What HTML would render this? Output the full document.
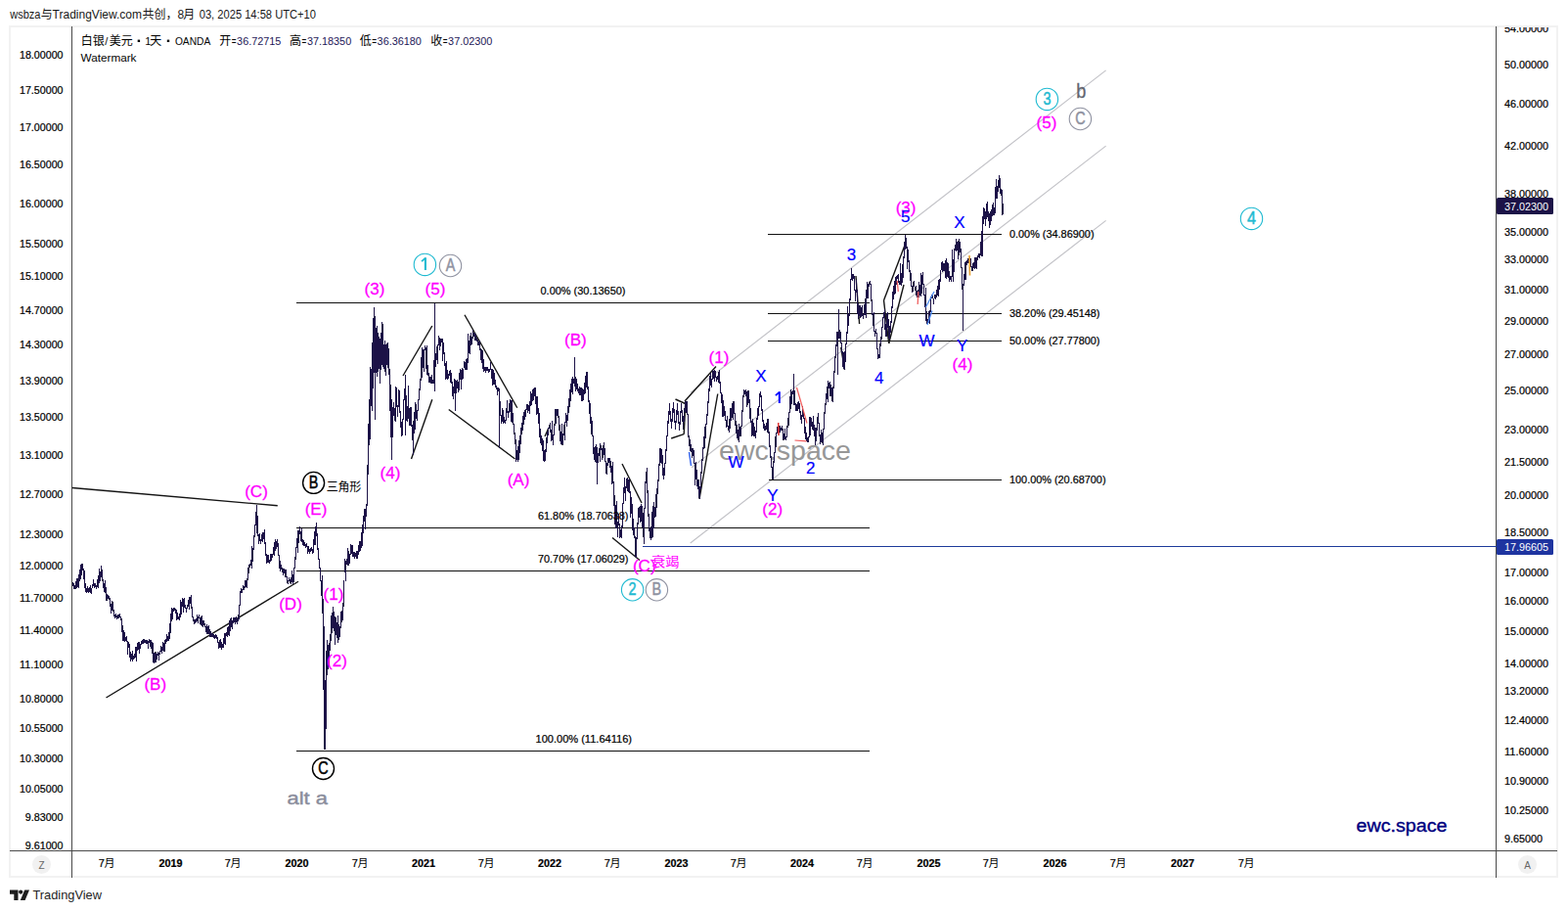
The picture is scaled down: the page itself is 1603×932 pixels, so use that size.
<!DOCTYPE html>
<html><head><meta charset="utf-8"><title>chart</title>
<style>html,body{margin:0;padding:0;background:#fff}body{width:1603px;height:932px;position:relative;overflow:hidden;font-family:"Liberation Sans",sans-serif}</style></head>
<body>
<svg width="1603" height="932" viewBox="0 0 1603 932" style="position:absolute;left:0;top:0;font-family:'Liberation Sans','Noto Sans CJK SC',sans-serif">
<rect x="10" y="27" width="1582" height="869" fill="#fff" stroke="#f2f2f2" stroke-width="2"/>
<line x1="73.5" y1="27" x2="73.5" y2="897" stroke="#4a4a4a" stroke-width="1" shape-rendering="crispEdges"/>
<line x1="1529.5" y1="27" x2="1529.5" y2="897" stroke="#4a4a4a" stroke-width="1" shape-rendering="crispEdges"/>
<line x1="10" y1="869.5" x2="1592" y2="869.5" stroke="#4a4a4a" stroke-width="1" shape-rendering="crispEdges"/>
<line x1="706" y1="401.3" x2="1130.6" y2="71.9" stroke="#c3c3c8" stroke-width="1.2"/>
<line x1="707" y1="477.7" x2="1130.6" y2="149.1" stroke="#c3c3c8" stroke-width="1.2"/>
<line x1="705.7" y1="555.0" x2="1130.6" y2="225.4" stroke="#c3c3c8" stroke-width="1.2"/>
<text x="735" y="469.5" font-size="28" fill="#979797" text-anchor="start" font-weight="normal" textLength="135" lengthAdjust="spacingAndGlyphs">ewc.space</text>
<line x1="302.5" y1="309.5" x2="888.5" y2="309.5" stroke="#111" stroke-width="1" shape-rendering="crispEdges"/>
<line x1="302.5" y1="539.5" x2="888.5" y2="539.5" stroke="#111" stroke-width="1" shape-rendering="crispEdges"/>
<line x1="302.5" y1="583.5" x2="888.5" y2="583.5" stroke="#111" stroke-width="1" shape-rendering="crispEdges"/>
<line x1="302.5" y1="767.5" x2="888.5" y2="767.5" stroke="#111" stroke-width="1" shape-rendering="crispEdges"/>
<line x1="785" y1="239.5" x2="1024" y2="239.5" stroke="#111" stroke-width="1" shape-rendering="crispEdges"/>
<line x1="785" y1="320.5" x2="1024" y2="320.5" stroke="#111" stroke-width="1" shape-rendering="crispEdges"/>
<line x1="785" y1="348.5" x2="1024" y2="348.5" stroke="#111" stroke-width="1" shape-rendering="crispEdges"/>
<line x1="786" y1="490.5" x2="1024" y2="490.5" stroke="#111" stroke-width="1" shape-rendering="crispEdges"/>
<line x1="657" y1="558.5" x2="1530" y2="558.5" stroke="#1e3a9a" stroke-width="1.4" shape-rendering="crispEdges"/>
<line x1="73.75" y1="498.5" x2="283.75" y2="516.75" stroke="#141414" stroke-width="1.4"/>
<line x1="108.5" y1="713" x2="305" y2="594.25" stroke="#141414" stroke-width="1.4"/>
<line x1="412" y1="384" x2="441.8" y2="333" stroke="#141414" stroke-width="1.4"/>
<line x1="420.5" y1="469" x2="441.8" y2="408.2" stroke="#141414" stroke-width="1.4"/>
<line x1="475" y1="321.75" x2="528.75" y2="416.75" stroke="#141414" stroke-width="1.4"/>
<line x1="458.75" y1="418.5" x2="526.5" y2="469" stroke="#141414" stroke-width="1.4"/>
<line x1="636" y1="474" x2="656" y2="514" stroke="#141414" stroke-width="1.4"/>
<line x1="626" y1="549.5" x2="654" y2="572.5" stroke="#141414" stroke-width="1.4"/>
<line x1="700" y1="410" x2="732" y2="374.5" stroke="#141414" stroke-width="1.4"/>
<line x1="715" y1="510" x2="733.75" y2="402.5" stroke="#141414" stroke-width="1.4"/>
<line x1="690.5" y1="408" x2="700.7" y2="412.5" stroke="#141414" stroke-width="1.4"/>
<line x1="700.7" y1="412.5" x2="699.2" y2="443.7" stroke="#141414" stroke-width="1.4"/>
<line x1="686.2" y1="448" x2="699.2" y2="443.7" stroke="#141414" stroke-width="1.4"/>
<line x1="875" y1="282" x2="878.6" y2="331" stroke="#141414" stroke-width="1.4"/>
<line x1="859.7" y1="355" x2="863.5" y2="378" stroke="#141414" stroke-width="1.4"/>
<line x1="903.5" y1="307" x2="925" y2="250.6" stroke="#141414" stroke-width="1.4"/>
<line x1="908.7" y1="351" x2="924" y2="291" stroke="#141414" stroke-width="1.4"/>
<line x1="903.5" y1="307" x2="908.7" y2="351" stroke="#141414" stroke-width="1.4"/>
<line x1="557" y1="446" x2="561" y2="437" stroke="#141414" stroke-width="1.4"/>
<path d="M74.5 595V599M75.5 596V602M76.5 598V602M77.5 594V602M78.5 591V601M79.5 591V600M80.5 587V601M81.5 582V594M82.5 577V592M83.5 576V588M84.5 576V583M85.5 581V592M86.5 583V601M87.5 596V605M88.5 601V606M89.5 599V605M90.5 601V606M91.5 600V605M92.5 598V606M93.5 601V607M94.5 597V601M95.5 592V599M96.5 596V601M97.5 596V600M98.5 598V602M99.5 592V600M100.5 588V601M101.5 581V596M102.5 584V594M103.5 578V590M104.5 582V594M105.5 592V601M106.5 596V605M107.5 593V606M108.5 600V614M109.5 607V614M110.5 608V612M111.5 609V613M112.5 611V620M113.5 617V627M114.5 614V624M115.5 615V625M116.5 623V630M117.5 628V632M118.5 627V631M119.5 629V633M120.5 628V632M121.5 628V632M122.5 627V631M123.5 630V634M124.5 632V646M125.5 639V655M126.5 644V655M127.5 646V656M128.5 651V655M129.5 650V656M130.5 655V669M131.5 656V662M132.5 658V672M133.5 666V676M134.5 668V674M135.5 665V676M136.5 670V674M137.5 668V673M138.5 661V672M139.5 661V676M140.5 657V665M141.5 656V664M142.5 656V668M143.5 658V663M144.5 655V659M145.5 654V658M146.5 653V658M147.5 653V657M148.5 654V657M149.5 654V658M150.5 654V658M151.5 655V663M152.5 653V657M153.5 654V661M154.5 654V663M155.5 656V668M156.5 657V677M157.5 667V678M158.5 666V677M159.5 666V677M160.5 668V674M161.5 666V670M162.5 667V675M163.5 665V669M164.5 660V666M165.5 661V668M166.5 656V665M167.5 657V666M168.5 654V666M169.5 653V658M170.5 648V656M171.5 650V655M172.5 646V655M173.5 637V653M174.5 627V647M175.5 621V635M176.5 622V633M177.5 621V625M178.5 621V624M179.5 622V627M180.5 623V634M181.5 626V633M182.5 630V633M183.5 627V634M184.5 613V631M185.5 615V628M186.5 611V620M187.5 612V626M188.5 611V621M189.5 618V622M190.5 621V626M191.5 618V622M192.5 613V620M193.5 610V623M194.5 610V617M195.5 608V622M196.5 620V631M197.5 630V635M198.5 633V638M199.5 633V637M200.5 632V636M201.5 628V635M202.5 630V637M203.5 628V632M204.5 631V638M205.5 630V639M206.5 629V640M207.5 634V641M208.5 634V639M209.5 637V641M210.5 640V646M211.5 638V648M212.5 640V648M213.5 639V648M214.5 643V651M215.5 645V651M216.5 647V651M217.5 647V651M218.5 648V652M219.5 649V653M220.5 648V652M221.5 649V653M222.5 651V657M223.5 656V663M224.5 654V662M225.5 653V662M226.5 656V664M227.5 658V662M228.5 652V662M229.5 647V658M230.5 647V659M231.5 646V650M232.5 641V651M233.5 640V649M234.5 634V650M235.5 632V645M236.5 631V641M237.5 634V643M238.5 631V637M239.5 631V636M240.5 631V638M241.5 630V636M242.5 632V638M243.5 628V635M244.5 618V633M245.5 604V619M246.5 601V606M247.5 602V606M248.5 598V603M249.5 599V603M250.5 593V601M251.5 593V600M252.5 591V601M253.5 580V593M254.5 577V586M255.5 576V580M256.5 572V578M257.5 558V581M258.5 560V574M259.5 547V562M260.5 536V549M261.5 523V537M262.5 516V545M263.5 527V548M264.5 546V556M265.5 545V553M266.5 551V556M267.5 546V553M268.5 544V554M269.5 544V551M270.5 541V556M271.5 554V568M272.5 566V576M273.5 567V575M274.5 567V575M275.5 572V576M276.5 566V574M277.5 566V573M278.5 566V570M279.5 559V567M280.5 554V568M281.5 551V563M282.5 553V561M283.5 551V559M284.5 555V568M285.5 567V581M286.5 573V584M287.5 577V582M288.5 580V585M289.5 581V588M290.5 581V586M291.5 582V590M292.5 582V590M293.5 589V596M294.5 593V597M295.5 590V594M296.5 592V596M297.5 590V597M298.5 583V595M299.5 587V597M300.5 580V595M301.5 569V581M302.5 559V572M303.5 550V560M304.5 542V565M305.5 542V555M306.5 538V546M307.5 543V553M308.5 540V554M309.5 551V557M310.5 552V558M311.5 554V558M312.5 556V560M313.5 555V559M314.5 558V566M315.5 558V564M316.5 561V566M317.5 560V564M318.5 559V563M319.5 561V566M320.5 551V565M321.5 543V557M322.5 538V557M323.5 534V548M324.5 545V562M325.5 560V572M326.5 571V581M327.5 580V594M328.5 593V609M329.5 588V627M330.5 612V705M331.5 640V766M332.5 695V766M333.5 665V745M334.5 654V690M335.5 659V684M336.5 657V681M337.5 648V665M338.5 629V655M339.5 626V647M340.5 620V642M341.5 625V645M342.5 630V659M343.5 631V649M344.5 636V652M345.5 629V657M346.5 638V654M347.5 640V651M348.5 625V642M349.5 624V636M350.5 616V634M351.5 593V620M352.5 571V585M353.5 573V594M354.5 571V577M355.5 560V578M356.5 563V578M357.5 566V576M358.5 556V567M359.5 557V566M360.5 557V569M361.5 564V569M362.5 564V571M363.5 565V569M364.5 563V571M365.5 563V571M366.5 557V567M367.5 553V564M368.5 553V563M369.5 544V560M370.5 536V558M371.5 527V545M372.5 520V533M373.5 520V541M374.5 515V528M375.5 475V517M376.5 433V485M377.5 408V455M378.5 375V449M379.5 377V415M380.5 350V420M381.5 325V397M382.5 314V381M383.5 323V429M384.5 335V381M385.5 333V385M386.5 340V380M387.5 344V377M388.5 346V392M389.5 340V378M390.5 329V373M391.5 331V375M392.5 352V377M393.5 348V380M394.5 352V384M395.5 351V373M396.5 350V376M397.5 356V383M398.5 377V420M399.5 393V447M400.5 408V470M401.5 416V447M402.5 411V425M403.5 417V430M404.5 395V431M405.5 396V416M406.5 414V426M407.5 398V416M408.5 399V422M409.5 420V437M410.5 431V446M411.5 428V445M412.5 408V429M413.5 397V409M414.5 383V445M415.5 404V430M416.5 415V431M417.5 394V428M418.5 417V435M419.5 416V435M420.5 416V436M421.5 434V450M422.5 430V465M423.5 421V443M424.5 411V439M425.5 413V428M426.5 419V430M427.5 408V420M428.5 397V409M429.5 387V399M430.5 365V389M431.5 355V386M432.5 357V376M433.5 357V380M434.5 353V358M435.5 355V377M436.5 353V383M437.5 373V384M438.5 381V391M439.5 385V391M440.5 385V392M441.5 383V392M442.5 388V392M443.5 368V392M444.5 310V400M445.5 361V375M446.5 354V368M447.5 352V372M448.5 343V353M449.5 345V358M450.5 346V354M451.5 346V350M452.5 346V369M453.5 350V362M454.5 360V374M455.5 371V388M456.5 369V387M457.5 378V388M458.5 382V387M459.5 379V384M460.5 378V391M461.5 381V392M462.5 390V405M463.5 395V408M464.5 387V402M465.5 388V420M466.5 389V402M467.5 388V397M468.5 390V401M469.5 381V399M470.5 377V388M471.5 378V398M472.5 376V388M473.5 377V387M474.5 369V376M475.5 370V378M476.5 367V378M477.5 366V378M478.5 341V371M479.5 348V361M480.5 343V362M481.5 340V353M482.5 344V352M483.5 337V346M484.5 340V344M485.5 340V348M486.5 342V348M487.5 345V349M488.5 347V353M489.5 349V353M490.5 348V358M491.5 356V368M492.5 357V371M493.5 358V377M494.5 367V380M495.5 375V379M496.5 375V381M497.5 375V379M498.5 375V379M499.5 377V381M500.5 377V380M501.5 370V378M502.5 377V387M503.5 377V394M504.5 378V393M505.5 381V393M506.5 388V396M507.5 394V398M508.5 396V404M509.5 396V400M510.5 397V458M511.5 410V425M512.5 424V433M513.5 417V431M514.5 419V433M515.5 426V432M516.5 429V433M517.5 417V430M518.5 409V422M519.5 420V427M520.5 412V422M521.5 408V421M522.5 409V431M523.5 409V432M524.5 422V434M525.5 433V444M526.5 442V454M527.5 449V472M528.5 460V470M529.5 456V472M530.5 450V470M531.5 445V463M532.5 437V454M533.5 432V444M534.5 425V440M535.5 421V434M536.5 419V429M537.5 418V426M538.5 413V419M539.5 413V422M540.5 414V420M541.5 410V423M542.5 400V415M543.5 402V414M544.5 398V410M545.5 397V409M546.5 396V405M547.5 396V413M548.5 405V424M549.5 405V423M550.5 417V433M551.5 422V447M552.5 438V453M553.5 445V455M554.5 448V461M555.5 450V471M556.5 460V472M557.5 459V471M558.5 447V462M559.5 441V453M560.5 437V445M561.5 434V438M562.5 432V442M563.5 439V451M564.5 430V450M565.5 444V455M566.5 433V445M567.5 418V435M568.5 418V433M569.5 418V425M570.5 418V427M571.5 425V440M572.5 434V451M573.5 441V454M574.5 433V455M575.5 443V455M576.5 434V445M577.5 431V450M578.5 422V432M579.5 424V436M580.5 415V430M581.5 407V422M582.5 398V416M583.5 392V410M584.5 387V401M585.5 385V403M586.5 387V392M587.5 365V395M588.5 385V400M589.5 387V398M590.5 392V400M591.5 397V402M592.5 395V404M593.5 396V404M594.5 396V410M595.5 397V410M596.5 398V409M597.5 391V403M598.5 384V402M599.5 380V396M600.5 380V398M601.5 395V411M602.5 409V423M603.5 412V433M604.5 426V444M605.5 430V446M606.5 445V464M607.5 457V470M608.5 456V472M609.5 454V473M610.5 457V495M611.5 463V473M612.5 458V466M613.5 453V472M614.5 455V460M615.5 458V470M616.5 455V468M617.5 452V465M618.5 458V472M619.5 471V484M620.5 473V485M621.5 468V476M622.5 468V473M623.5 468V478M624.5 471V483M625.5 476V495M626.5 472V494M627.5 492V517M628.5 506V536M629.5 516V540M630.5 512V540M631.5 533V549M632.5 525V537M633.5 535V550M634.5 541V549M635.5 537V550M636.5 514V539M637.5 498V515M638.5 488V504M639.5 497V512M640.5 489V499M641.5 488V502M642.5 490V503M643.5 489V504M644.5 502V529M645.5 508V525M646.5 515V542M647.5 530V547M648.5 539V550M649.5 548V569M650.5 549V570M651.5 534V551M652.5 519V536M653.5 518V529M654.5 517V534M655.5 515V533M656.5 517V539M657.5 524V549M658.5 519V556M659.5 492V520M660.5 482V494M661.5 478V504M662.5 501V528M663.5 525V543M664.5 540V550M665.5 538V552M666.5 523V550M667.5 517V549M668.5 513V540M669.5 518V529M670.5 505V528M671.5 499V519M672.5 490V505M673.5 474V492M674.5 458V476M675.5 458V473M676.5 459V474M677.5 465V486M678.5 478V490M679.5 473V486M680.5 459V474M681.5 445V461M682.5 430V446M683.5 420V433M684.5 412V424M685.5 420V431M686.5 428V438M687.5 417V431M688.5 411V422M689.5 418V432M690.5 430V439M691.5 419V432M692.5 412V424M693.5 420V433M694.5 431V440M695.5 420V434M696.5 412V422M697.5 419V431M698.5 425V439M699.5 417V431M700.5 410V421M701.5 410V422M702.5 410V424M703.5 423V447M704.5 445V456M705.5 449V461M706.5 454V462M707.5 458V468M708.5 458V466M709.5 460V474M710.5 473V496M711.5 472V490M712.5 480V497M713.5 490V500M714.5 490V509M715.5 497V510M716.5 482V500M717.5 469V484M718.5 457V471M719.5 446V459M720.5 436V458M721.5 433V448M722.5 423V434M723.5 410V425M724.5 397V412M725.5 384V400M726.5 381V394M727.5 387V396M728.5 378V388M729.5 379V387M730.5 378V390M731.5 379V386M732.5 385V390M733.5 384V388M734.5 380V391M735.5 378V392M736.5 390V402M737.5 401V412M738.5 403V426M739.5 409V426M740.5 415V425M741.5 420V430M742.5 429V437M743.5 425V436M744.5 435V440M745.5 428V442M746.5 417V438M747.5 417V430M748.5 412V427M749.5 410V429M750.5 410V423M751.5 422V435M752.5 430V443M753.5 434V448M754.5 439V450M755.5 433V452M756.5 436V446M757.5 435V446M758.5 419V436M759.5 404V421M760.5 398V406M761.5 399V403M762.5 398V405M763.5 400V416M764.5 399V414M765.5 399V412M766.5 408V428M767.5 417V432M768.5 430V446M769.5 428V445M770.5 432V446M771.5 436V446M772.5 440V448M773.5 427V442M774.5 417V429M775.5 415V425M776.5 402V416M777.5 400V406M778.5 404V420M779.5 418V431M780.5 429V438M781.5 433V440M782.5 435V440M783.5 432V439M784.5 428V442M785.5 428V443M786.5 441V457M787.5 455V468M788.5 466V478M789.5 477V490M790.5 471V490M791.5 462V473M792.5 446V463M793.5 442V457M794.5 436V443M795.5 436V442M796.5 435V443M797.5 435V442M798.5 437V440M799.5 435V440M800.5 438V450M801.5 443V450M802.5 438V449M803.5 446V450M804.5 435V447M805.5 427V437M806.5 421V435M807.5 405V422M808.5 398V418M809.5 400V413M810.5 399V403M811.5 382V414M812.5 399V414M813.5 412V420M814.5 413V420M815.5 411V420M816.5 410V418M817.5 412V422M818.5 420V429M819.5 424V433M820.5 415V426M821.5 421V428M822.5 427V443M823.5 436V449M824.5 442V451M825.5 447V452M826.5 446V452M827.5 426V447M828.5 426V445M829.5 427V436M830.5 431V439M831.5 425V440M832.5 434V446M833.5 437V455M834.5 437V451M835.5 426V440M836.5 422V433M837.5 432V446M838.5 444V454M839.5 439V452M840.5 442V453M841.5 438V455M842.5 421V439M843.5 412V423M844.5 402V414M845.5 395V408M846.5 389V411M847.5 391V397M848.5 390V405M849.5 393V405M850.5 396V410M851.5 395V411M852.5 379V397M853.5 364V381M854.5 352V366M855.5 339V354M856.5 339V383M857.5 316V346M858.5 337V346M859.5 339V351M860.5 350V361M861.5 359V375M862.5 360V377M863.5 359V378M864.5 351V370M865.5 339V352M866.5 313V341M867.5 321V333M868.5 305V323M869.5 285V307M870.5 274V286M871.5 280V287M872.5 280V285M873.5 282V297M874.5 296V308M875.5 286V299M876.5 296V321M877.5 310V326M878.5 312V323M879.5 312V325M880.5 314V324M881.5 312V323M882.5 321V326M883.5 311V322M884.5 305V322M885.5 296V325M886.5 288V305M887.5 290V305M888.5 288V293M889.5 287V291M890.5 290V308M891.5 306V322M892.5 320V333M893.5 319V339M894.5 338V344M895.5 336V341M896.5 340V357M897.5 356V367M898.5 362V366M899.5 351V366M900.5 344V354M901.5 334V347M902.5 324V335M903.5 319V325M904.5 316V337M905.5 331V344M906.5 320V344M907.5 319V335M908.5 326V346M909.5 333V347M910.5 328V340M911.5 313V330M912.5 298V315M913.5 292V306M914.5 287V301M915.5 283V300M916.5 282V291M917.5 281V285M918.5 280V289M919.5 287V291M920.5 269V291M921.5 279V292M922.5 270V289M923.5 262V284M924.5 247V264M925.5 240V255M926.5 243V254M927.5 252V275M928.5 255V268M929.5 266V278M930.5 276V287M931.5 279V293M932.5 292V299M933.5 288V298M934.5 287V293M935.5 293V297M936.5 292V302M937.5 297V304M938.5 296V303M939.5 288V304M940.5 291V302M941.5 279V303M942.5 281V300M943.5 278V291M944.5 290V302M945.5 301V314M946.5 294V328M947.5 318V331M948.5 326V331M949.5 318V330M950.5 317V331M951.5 303V319M952.5 301V305M953.5 302V305M954.5 305V311M955.5 301V305M956.5 301V306M957.5 296V304M958.5 292V302M959.5 286V303M960.5 285V296M961.5 276V288M962.5 268V276M963.5 267V278M964.5 269V277M965.5 269V277M966.5 266V284M967.5 264V285M968.5 268V283M969.5 269V284M970.5 277V288M971.5 282V286M972.5 282V288M973.5 255V283M974.5 265V288M975.5 254V278M976.5 250V256M977.5 244V257M978.5 247V256M979.5 246V265M980.5 244V261M981.5 247V258M982.5 254V274M983.5 273V296M984.5 290V338M985.5 280V292M986.5 268V286M987.5 267V286M988.5 266V271M989.5 264V269M990.5 264V269M991.5 263V267M992.5 264V273M993.5 272V277M994.5 269V277M995.5 268V274M996.5 263V275M997.5 263V274M998.5 263V275M999.5 261V266M1000.5 259V263M1001.5 259V264M1002.5 247V261M1003.5 236V262M1004.5 221V262M1005.5 212V229M1006.5 213V224M1007.5 216V231M1008.5 208V224M1009.5 206V222M1010.5 216V226M1011.5 218V233M1012.5 216V230M1013.5 214V226M1014.5 209V221M1015.5 207V220M1016.5 212V220M1017.5 191V218M1018.5 183V203M1019.5 190V203M1020.5 184V196M1021.5 179V192M1022.5 182V198M1023.5 193V200M1024.5 194V220M1025.5 208V219" stroke="#1c1247" stroke-width="1" fill="none" shape-rendering="crispEdges"/>
<line x1="814.5" y1="396" x2="825" y2="432.5" stroke="#f05a5a" stroke-width="1.2"/>
<line x1="812.5" y1="450" x2="824.5" y2="450.8" stroke="#f05a5a" stroke-width="1.2"/>
<line x1="795.7" y1="432" x2="796" y2="445" stroke="#e03030" stroke-width="1.5"/>
<line x1="917.2" y1="287" x2="918.3" y2="298" stroke="#f06060" stroke-width="1.3"/>
<line x1="938.8" y1="298" x2="938.2" y2="311" stroke="#f06060" stroke-width="1.3"/>
<line x1="946.4" y1="314" x2="955" y2="298" stroke="#4f8df5" stroke-width="1.3"/>
<line x1="948" y1="332" x2="953" y2="317.5" stroke="#4f8df5" stroke-width="1.3"/>
<line x1="704.5" y1="462" x2="706.5" y2="476" stroke="#3f6df0" stroke-width="1.6"/>
<line x1="991" y1="261" x2="991.5" y2="281.5" stroke="#e8a030" stroke-width="1.6"/>
<text x="64.5" y="60.0" font-size="11" fill="#000" text-anchor="end" font-weight="normal" textLength="44.5" lengthAdjust="spacingAndGlyphs" stroke="#000" stroke-width="0.22">18.00000</text>
<text x="64.5" y="96.3" font-size="11" fill="#000" text-anchor="end" font-weight="normal" textLength="44.5" lengthAdjust="spacingAndGlyphs" stroke="#000" stroke-width="0.22">17.50000</text>
<text x="64.5" y="133.6" font-size="11" fill="#000" text-anchor="end" font-weight="normal" textLength="44.5" lengthAdjust="spacingAndGlyphs" stroke="#000" stroke-width="0.22">17.00000</text>
<text x="64.5" y="172.0" font-size="11" fill="#000" text-anchor="end" font-weight="normal" textLength="44.5" lengthAdjust="spacingAndGlyphs" stroke="#000" stroke-width="0.22">16.50000</text>
<text x="64.5" y="211.7" font-size="11" fill="#000" text-anchor="end" font-weight="normal" textLength="44.5" lengthAdjust="spacingAndGlyphs" stroke="#000" stroke-width="0.22">16.00000</text>
<text x="64.5" y="252.5" font-size="11" fill="#000" text-anchor="end" font-weight="normal" textLength="44.5" lengthAdjust="spacingAndGlyphs" stroke="#000" stroke-width="0.22">15.50000</text>
<text x="64.5" y="286.2" font-size="11" fill="#000" text-anchor="end" font-weight="normal" textLength="44.5" lengthAdjust="spacingAndGlyphs" stroke="#000" stroke-width="0.22">15.10000</text>
<text x="64.5" y="320.8" font-size="11" fill="#000" text-anchor="end" font-weight="normal" textLength="44.5" lengthAdjust="spacingAndGlyphs" stroke="#000" stroke-width="0.22">14.70000</text>
<text x="64.5" y="356.3" font-size="11" fill="#000" text-anchor="end" font-weight="normal" textLength="44.5" lengthAdjust="spacingAndGlyphs" stroke="#000" stroke-width="0.22">14.30000</text>
<text x="64.5" y="392.8" font-size="11" fill="#000" text-anchor="end" font-weight="normal" textLength="44.5" lengthAdjust="spacingAndGlyphs" stroke="#000" stroke-width="0.22">13.90000</text>
<text x="64.5" y="430.4" font-size="11" fill="#000" text-anchor="end" font-weight="normal" textLength="44.5" lengthAdjust="spacingAndGlyphs" stroke="#000" stroke-width="0.22">13.50000</text>
<text x="64.5" y="469.1" font-size="11" fill="#000" text-anchor="end" font-weight="normal" textLength="44.5" lengthAdjust="spacingAndGlyphs" stroke="#000" stroke-width="0.22">13.10000</text>
<text x="64.5" y="509.1" font-size="11" fill="#000" text-anchor="end" font-weight="normal" textLength="44.5" lengthAdjust="spacingAndGlyphs" stroke="#000" stroke-width="0.22">12.70000</text>
<text x="64.5" y="550.3" font-size="11" fill="#000" text-anchor="end" font-weight="normal" textLength="44.5" lengthAdjust="spacingAndGlyphs" stroke="#000" stroke-width="0.22">12.30000</text>
<text x="64.5" y="582.1" font-size="11" fill="#000" text-anchor="end" font-weight="normal" textLength="44.5" lengthAdjust="spacingAndGlyphs" stroke="#000" stroke-width="0.22">12.00000</text>
<text x="64.5" y="614.7" font-size="11" fill="#000" text-anchor="end" font-weight="normal" textLength="44.5" lengthAdjust="spacingAndGlyphs" stroke="#000" stroke-width="0.22">11.70000</text>
<text x="64.5" y="648.1" font-size="11" fill="#000" text-anchor="end" font-weight="normal" textLength="44.5" lengthAdjust="spacingAndGlyphs" stroke="#000" stroke-width="0.22">11.40000</text>
<text x="64.5" y="682.5" font-size="11" fill="#000" text-anchor="end" font-weight="normal" textLength="44.5" lengthAdjust="spacingAndGlyphs" stroke="#000" stroke-width="0.22">11.10000</text>
<text x="64.5" y="717.7" font-size="11" fill="#000" text-anchor="end" font-weight="normal" textLength="44.5" lengthAdjust="spacingAndGlyphs" stroke="#000" stroke-width="0.22">10.80000</text>
<text x="64.5" y="747.9" font-size="11" fill="#000" text-anchor="end" font-weight="normal" textLength="44.5" lengthAdjust="spacingAndGlyphs" stroke="#000" stroke-width="0.22">10.55000</text>
<text x="64.5" y="778.8" font-size="11" fill="#000" text-anchor="end" font-weight="normal" textLength="44.5" lengthAdjust="spacingAndGlyphs" stroke="#000" stroke-width="0.22">10.30000</text>
<text x="64.5" y="810.4" font-size="11" fill="#000" text-anchor="end" font-weight="normal" textLength="44.5" lengthAdjust="spacingAndGlyphs" stroke="#000" stroke-width="0.22">10.05000</text>
<text x="64.5" y="838.9" font-size="11" fill="#000" text-anchor="end" font-weight="normal" textLength="38.7" lengthAdjust="spacingAndGlyphs" stroke="#000" stroke-width="0.22">9.83000</text>
<text x="64.5" y="868.1" font-size="11" fill="#000" text-anchor="end" font-weight="normal" textLength="38.7" lengthAdjust="spacingAndGlyphs" stroke="#000" stroke-width="0.22">9.61000</text>
<clipPath id="rc"><rect x="1530" y="28" width="62" height="841"/></clipPath><g clip-path="url(#rc)">
<text x="1538" y="32.5" font-size="11" fill="#000" text-anchor="start" font-weight="normal" textLength="45" lengthAdjust="spacingAndGlyphs" stroke="#000" stroke-width="0.22">54.00000</text>
<text x="1538" y="69.5" font-size="11" fill="#000" text-anchor="start" font-weight="normal" textLength="45" lengthAdjust="spacingAndGlyphs" stroke="#000" stroke-width="0.22">50.00000</text>
<text x="1538" y="109.6" font-size="11" fill="#000" text-anchor="start" font-weight="normal" textLength="45" lengthAdjust="spacingAndGlyphs" stroke="#000" stroke-width="0.22">46.00000</text>
<text x="1538" y="153.4" font-size="11" fill="#000" text-anchor="start" font-weight="normal" textLength="45" lengthAdjust="spacingAndGlyphs" stroke="#000" stroke-width="0.22">42.00000</text>
<text x="1538" y="201.5" font-size="11" fill="#000" text-anchor="start" font-weight="normal" textLength="45" lengthAdjust="spacingAndGlyphs" stroke="#000" stroke-width="0.22">38.00000</text>
<text x="1538" y="241.1" font-size="11" fill="#000" text-anchor="start" font-weight="normal" textLength="45" lengthAdjust="spacingAndGlyphs" stroke="#000" stroke-width="0.22">35.00000</text>
<text x="1538" y="269.4" font-size="11" fill="#000" text-anchor="start" font-weight="normal" textLength="45" lengthAdjust="spacingAndGlyphs" stroke="#000" stroke-width="0.22">33.00000</text>
<text x="1538" y="299.5" font-size="11" fill="#000" text-anchor="start" font-weight="normal" textLength="45" lengthAdjust="spacingAndGlyphs" stroke="#000" stroke-width="0.22">31.00000</text>
<text x="1538" y="331.6" font-size="11" fill="#000" text-anchor="start" font-weight="normal" textLength="45" lengthAdjust="spacingAndGlyphs" stroke="#000" stroke-width="0.22">29.00000</text>
<text x="1538" y="365.9" font-size="11" fill="#000" text-anchor="start" font-weight="normal" textLength="45" lengthAdjust="spacingAndGlyphs" stroke="#000" stroke-width="0.22">27.00000</text>
<text x="1538" y="403.0" font-size="11" fill="#000" text-anchor="start" font-weight="normal" textLength="45" lengthAdjust="spacingAndGlyphs" stroke="#000" stroke-width="0.22">25.00000</text>
<text x="1538" y="443.1" font-size="11" fill="#000" text-anchor="start" font-weight="normal" textLength="45" lengthAdjust="spacingAndGlyphs" stroke="#000" stroke-width="0.22">23.00000</text>
<text x="1538" y="475.5" font-size="11" fill="#000" text-anchor="start" font-weight="normal" textLength="45" lengthAdjust="spacingAndGlyphs" stroke="#000" stroke-width="0.22">21.50000</text>
<text x="1538" y="510.3" font-size="11" fill="#000" text-anchor="start" font-weight="normal" textLength="45" lengthAdjust="spacingAndGlyphs" stroke="#000" stroke-width="0.22">20.00000</text>
<text x="1538" y="547.8" font-size="11" fill="#000" text-anchor="start" font-weight="normal" textLength="45" lengthAdjust="spacingAndGlyphs" stroke="#000" stroke-width="0.22">18.50000</text>
<text x="1538" y="588.5" font-size="11" fill="#000" text-anchor="start" font-weight="normal" textLength="45" lengthAdjust="spacingAndGlyphs" stroke="#000" stroke-width="0.22">17.00000</text>
<text x="1538" y="617.7" font-size="11" fill="#000" text-anchor="start" font-weight="normal" textLength="45" lengthAdjust="spacingAndGlyphs" stroke="#000" stroke-width="0.22">16.00000</text>
<text x="1538" y="648.7" font-size="11" fill="#000" text-anchor="start" font-weight="normal" textLength="45" lengthAdjust="spacingAndGlyphs" stroke="#000" stroke-width="0.22">15.00000</text>
<text x="1538" y="681.9" font-size="11" fill="#000" text-anchor="start" font-weight="normal" textLength="45" lengthAdjust="spacingAndGlyphs" stroke="#000" stroke-width="0.22">14.00000</text>
<text x="1538" y="710.2" font-size="11" fill="#000" text-anchor="start" font-weight="normal" textLength="45" lengthAdjust="spacingAndGlyphs" stroke="#000" stroke-width="0.22">13.20000</text>
<text x="1538" y="740.3" font-size="11" fill="#000" text-anchor="start" font-weight="normal" textLength="45" lengthAdjust="spacingAndGlyphs" stroke="#000" stroke-width="0.22">12.40000</text>
<text x="1538" y="772.4" font-size="11" fill="#000" text-anchor="start" font-weight="normal" textLength="45" lengthAdjust="spacingAndGlyphs" stroke="#000" stroke-width="0.22">11.60000</text>
<text x="1538" y="802.3" font-size="11" fill="#000" text-anchor="start" font-weight="normal" textLength="45" lengthAdjust="spacingAndGlyphs" stroke="#000" stroke-width="0.22">10.90000</text>
<text x="1538" y="831.9" font-size="11" fill="#000" text-anchor="start" font-weight="normal" textLength="45" lengthAdjust="spacingAndGlyphs" stroke="#000" stroke-width="0.22">10.25000</text>
<text x="1538" y="860.9" font-size="11" fill="#000" text-anchor="start" font-weight="normal" textLength="39" lengthAdjust="spacingAndGlyphs" stroke="#000" stroke-width="0.22">9.65000</text>
</g>
<rect x="1530" y="202" width="58" height="17" rx="1.5" fill="#1c1247"/>
<text x="1538" y="215" font-size="11" fill="#fff" text-anchor="start" font-weight="normal" textLength="45" lengthAdjust="spacingAndGlyphs">37.02300</text>
<rect x="1530" y="551" width="58" height="16" rx="1.5" fill="#1e34a0"/>
<text x="1538" y="563" font-size="11" fill="#fff" text-anchor="start" font-weight="normal" textLength="45" lengthAdjust="spacingAndGlyphs">17.96605</text>
<text x="100.8" y="885.5" font-size="11" fill="#000" text-anchor="start" font-weight="normal" stroke="#000" stroke-width="0.22">7</text>
<text x="106.4" y="885.9" font-size="11" fill="#000" text-anchor="start" font-family="'Liberation Sans','Noto Sans CJK SC',sans-serif">月</text>
<text x="174.5" y="885.5" font-size="11" fill="#000" text-anchor="middle" font-weight="bold" textLength="24" lengthAdjust="spacingAndGlyphs" stroke="#000" stroke-width="0.22">2019</text>
<text x="229.8" y="885.5" font-size="11" fill="#000" text-anchor="start" font-weight="normal" stroke="#000" stroke-width="0.22">7</text>
<text x="235.4" y="885.9" font-size="11" fill="#000" text-anchor="start" font-family="'Liberation Sans','Noto Sans CJK SC',sans-serif">月</text>
<text x="303.5" y="885.5" font-size="11" fill="#000" text-anchor="middle" font-weight="bold" textLength="24" lengthAdjust="spacingAndGlyphs" stroke="#000" stroke-width="0.22">2020</text>
<text x="359.8" y="885.5" font-size="11" fill="#000" text-anchor="start" font-weight="normal" stroke="#000" stroke-width="0.22">7</text>
<text x="365.4" y="885.9" font-size="11" fill="#000" text-anchor="start" font-family="'Liberation Sans','Noto Sans CJK SC',sans-serif">月</text>
<text x="433" y="885.5" font-size="11" fill="#000" text-anchor="middle" font-weight="bold" textLength="24" lengthAdjust="spacingAndGlyphs" stroke="#000" stroke-width="0.22">2021</text>
<text x="488.8" y="885.5" font-size="11" fill="#000" text-anchor="start" font-weight="normal" stroke="#000" stroke-width="0.22">7</text>
<text x="494.4" y="885.9" font-size="11" fill="#000" text-anchor="start" font-family="'Liberation Sans','Noto Sans CJK SC',sans-serif">月</text>
<text x="562" y="885.5" font-size="11" fill="#000" text-anchor="middle" font-weight="bold" textLength="24" lengthAdjust="spacingAndGlyphs" stroke="#000" stroke-width="0.22">2022</text>
<text x="617.8" y="885.5" font-size="11" fill="#000" text-anchor="start" font-weight="normal" stroke="#000" stroke-width="0.22">7</text>
<text x="623.4" y="885.9" font-size="11" fill="#000" text-anchor="start" font-family="'Liberation Sans','Noto Sans CJK SC',sans-serif">月</text>
<text x="691.5" y="885.5" font-size="11" fill="#000" text-anchor="middle" font-weight="bold" textLength="24" lengthAdjust="spacingAndGlyphs" stroke="#000" stroke-width="0.22">2023</text>
<text x="746.8" y="885.5" font-size="11" fill="#000" text-anchor="start" font-weight="normal" stroke="#000" stroke-width="0.22">7</text>
<text x="752.4" y="885.9" font-size="11" fill="#000" text-anchor="start" font-family="'Liberation Sans','Noto Sans CJK SC',sans-serif">月</text>
<text x="820" y="885.5" font-size="11" fill="#000" text-anchor="middle" font-weight="bold" textLength="24" lengthAdjust="spacingAndGlyphs" stroke="#000" stroke-width="0.22">2024</text>
<text x="875.8" y="885.5" font-size="11" fill="#000" text-anchor="start" font-weight="normal" stroke="#000" stroke-width="0.22">7</text>
<text x="881.4" y="885.9" font-size="11" fill="#000" text-anchor="start" font-family="'Liberation Sans','Noto Sans CJK SC',sans-serif">月</text>
<text x="949.5" y="885.5" font-size="11" fill="#000" text-anchor="middle" font-weight="bold" textLength="24" lengthAdjust="spacingAndGlyphs" stroke="#000" stroke-width="0.22">2025</text>
<text x="1004.8" y="885.5" font-size="11" fill="#000" text-anchor="start" font-weight="normal" stroke="#000" stroke-width="0.22">7</text>
<text x="1010.4" y="885.9" font-size="11" fill="#000" text-anchor="start" font-family="'Liberation Sans','Noto Sans CJK SC',sans-serif">月</text>
<text x="1078.5" y="885.5" font-size="11" fill="#000" text-anchor="middle" font-weight="bold" textLength="24" lengthAdjust="spacingAndGlyphs" stroke="#000" stroke-width="0.22">2026</text>
<text x="1134.8" y="885.5" font-size="11" fill="#000" text-anchor="start" font-weight="normal" stroke="#000" stroke-width="0.22">7</text>
<text x="1140.4" y="885.9" font-size="11" fill="#000" text-anchor="start" font-family="'Liberation Sans','Noto Sans CJK SC',sans-serif">月</text>
<text x="1209" y="885.5" font-size="11" fill="#000" text-anchor="middle" font-weight="bold" textLength="24" lengthAdjust="spacingAndGlyphs" stroke="#000" stroke-width="0.22">2027</text>
<text x="1265.8" y="885.5" font-size="11" fill="#000" text-anchor="start" font-weight="normal" stroke="#000" stroke-width="0.22">7</text>
<text x="1271.4" y="885.9" font-size="11" fill="#000" text-anchor="start" font-family="'Liberation Sans','Noto Sans CJK SC',sans-serif">月</text>
<circle cx="42.5" cy="883.5" r="9.5" fill="#f1f1f1"/>
<text x="42.5" y="887.5" font-size="10" fill="#666" text-anchor="middle" font-weight="normal">Z</text>
<circle cx="1561.5" cy="883.5" r="9.5" fill="#f1f1f1"/>
<text x="1561.5" y="887.5" font-size="10" fill="#666" text-anchor="middle" font-weight="normal">A</text>
<text x="10.2" y="18.7" font-size="12" fill="#181818" text-anchor="start" font-weight="normal" textLength="31.2" lengthAdjust="spacingAndGlyphs">wsbza</text>
<text x="41.7" y="18.9" font-size="12" fill="#181818" text-anchor="start" font-family="'Liberation Sans','Noto Sans CJK SC',sans-serif">与</text>
<text x="53.6" y="18.7" font-size="12" fill="#181818" text-anchor="start" font-weight="normal" textLength="91.4" lengthAdjust="spacingAndGlyphs">TradingView.com</text>
<text x="145.6" y="18.9" font-size="12" fill="#181818" text-anchor="start" textLength="36" lengthAdjust="spacing" font-family="'Liberation Sans','Noto Sans CJK SC',sans-serif">共创，</text>
<text x="181.6" y="18.7" font-size="12" fill="#181818" text-anchor="start" font-weight="normal">8</text>
<text x="187.3" y="18.9" font-size="12" fill="#181818" text-anchor="start" font-family="'Liberation Sans','Noto Sans CJK SC',sans-serif">月</text>
<text x="203.7" y="18.7" font-size="12" fill="#181818" text-anchor="start" font-weight="normal" textLength="119.3" lengthAdjust="spacingAndGlyphs">03, 2025 14:58 UTC+10</text>
<text x="82.8" y="46.1" font-size="12" fill="#000" text-anchor="start" textLength="24" lengthAdjust="spacing" font-family="'Liberation Sans','Noto Sans CJK SC',sans-serif">白银</text>
<text x="107.2" y="45.6" font-size="11" fill="#050505" text-anchor="start" font-weight="normal">/</text>
<text x="111.8" y="46.1" font-size="12" fill="#000" text-anchor="start" textLength="24" lengthAdjust="spacing" font-family="'Liberation Sans','Noto Sans CJK SC',sans-serif">美元</text>
<rect x="140.7" y="40.6" width="2.4" height="2.4" fill="#000"/><rect x="170.8" y="40.6" width="2.4" height="2.4" fill="#000"/>
<text x="148.2" y="45.6" font-size="11" fill="#050505" text-anchor="start" font-weight="normal">1</text>
<text x="153.3" y="46.1" font-size="12" fill="#000" text-anchor="start" font-family="'Liberation Sans','Noto Sans CJK SC',sans-serif">天</text>
<text x="178.9" y="45.6" font-size="11" fill="#050505" text-anchor="start" font-weight="normal" textLength="36.4" lengthAdjust="spacingAndGlyphs">OANDA</text>
<text x="224.3" y="46.1" font-size="12" fill="#000" text-anchor="start" font-family="'Liberation Sans','Noto Sans CJK SC',sans-serif">开</text>
<text x="236.70000000000002" y="45.6" font-size="11" fill="#050505" text-anchor="start" font-weight="normal" textLength="4.8" lengthAdjust="spacingAndGlyphs">=</text>
<text x="242.1" y="45.6" font-size="11" fill="#1d1757" text-anchor="start" font-weight="normal" textLength="45.3" lengthAdjust="spacingAndGlyphs">36.72715</text>
<text x="296.1" y="46.1" font-size="12" fill="#000" text-anchor="start" font-family="'Liberation Sans','Noto Sans CJK SC',sans-serif">高</text>
<text x="308.5" y="45.6" font-size="11" fill="#050505" text-anchor="start" font-weight="normal" textLength="4.8" lengthAdjust="spacingAndGlyphs">=</text>
<text x="313.9" y="45.6" font-size="11" fill="#1d1757" text-anchor="start" font-weight="normal" textLength="45.3" lengthAdjust="spacingAndGlyphs">37.18350</text>
<text x="367.8" y="46.1" font-size="12" fill="#000" text-anchor="start" font-family="'Liberation Sans','Noto Sans CJK SC',sans-serif">低</text>
<text x="380.2" y="45.6" font-size="11" fill="#050505" text-anchor="start" font-weight="normal" textLength="4.8" lengthAdjust="spacingAndGlyphs">=</text>
<text x="385.6" y="45.6" font-size="11" fill="#1d1757" text-anchor="start" font-weight="normal" textLength="45.3" lengthAdjust="spacingAndGlyphs">36.36180</text>
<text x="440.3" y="46.1" font-size="12" fill="#000" text-anchor="start" font-family="'Liberation Sans','Noto Sans CJK SC',sans-serif">收</text>
<text x="452.7" y="45.6" font-size="11" fill="#050505" text-anchor="start" font-weight="normal" textLength="4.8" lengthAdjust="spacingAndGlyphs">=</text>
<text x="458.1" y="45.6" font-size="11" fill="#1d1757" text-anchor="start" font-weight="normal" textLength="45.3" lengthAdjust="spacingAndGlyphs">37.02300</text>
<text x="82.5" y="63" font-size="11" fill="#050505" text-anchor="start" font-weight="normal" textLength="57" lengthAdjust="spacingAndGlyphs">Watermark</text>
<text x="552.5" y="300.5" font-size="11" fill="#000" text-anchor="start" font-weight="normal" textLength="87" lengthAdjust="spacingAndGlyphs" stroke="#000" stroke-width="0.22">0.00% (30.13650)</text>
<text x="550" y="530.5" font-size="11" fill="#000" text-anchor="start" font-weight="normal" textLength="92.5" lengthAdjust="spacingAndGlyphs" stroke="#000" stroke-width="0.22">61.80% (18.70638)</text>
<text x="550" y="575" font-size="11" fill="#000" text-anchor="start" font-weight="normal" textLength="92.5" lengthAdjust="spacingAndGlyphs" stroke="#000" stroke-width="0.22">70.70% (17.06029)</text>
<text x="547.5" y="758.5" font-size="11" fill="#000" text-anchor="start" font-weight="normal" textLength="98.5" lengthAdjust="spacingAndGlyphs" stroke="#000" stroke-width="0.22">100.00% (11.64116)</text>
<text x="1032" y="243" font-size="11" fill="#000" text-anchor="start" font-weight="normal" textLength="86.5" lengthAdjust="spacingAndGlyphs" stroke="#000" stroke-width="0.22">0.00% (34.86900)</text>
<text x="1032" y="324" font-size="11" fill="#000" text-anchor="start" font-weight="normal" textLength="92.5" lengthAdjust="spacingAndGlyphs" stroke="#000" stroke-width="0.22">38.20% (29.45148)</text>
<text x="1032" y="352" font-size="11" fill="#000" text-anchor="start" font-weight="normal" textLength="92.5" lengthAdjust="spacingAndGlyphs" stroke="#000" stroke-width="0.22">50.00% (27.77800)</text>
<text x="1032" y="493.5" font-size="11" fill="#000" text-anchor="start" font-weight="normal" textLength="98.5" lengthAdjust="spacingAndGlyphs" stroke="#000" stroke-width="0.22">100.00% (20.68700)</text>
<text x="383" y="301" font-size="17" fill="#ff00ff" text-anchor="middle" font-weight="normal" stroke="#ff00ff" stroke-width="0.3">(3)</text>
<text x="445" y="301" font-size="17" fill="#ff00ff" text-anchor="middle" font-weight="normal" stroke="#ff00ff" stroke-width="0.3">(5)</text>
<text x="399" y="489" font-size="17" fill="#ff00ff" text-anchor="middle" font-weight="normal" stroke="#ff00ff" stroke-width="0.3">(4)</text>
<text x="530" y="496" font-size="17" fill="#ff00ff" text-anchor="middle" font-weight="normal" stroke="#ff00ff" stroke-width="0.3">(A)</text>
<text x="588.4" y="352.5" font-size="17" fill="#ff00ff" text-anchor="middle" font-weight="normal" stroke="#ff00ff" stroke-width="0.3">(B)</text>
<text x="262" y="508" font-size="17" fill="#ff00ff" text-anchor="middle" font-weight="normal" stroke="#ff00ff" stroke-width="0.3">(C)</text>
<text x="323" y="525.8" font-size="17" fill="#ff00ff" text-anchor="middle" font-weight="normal" stroke="#ff00ff" stroke-width="0.3">(E)</text>
<text x="297" y="623" font-size="17" fill="#ff00ff" text-anchor="middle" font-weight="normal" stroke="#ff00ff" stroke-width="0.3">(D)</text>
<text x="341" y="613" font-size="17" fill="#ff00ff" text-anchor="middle" font-weight="normal" stroke="#ff00ff" stroke-width="0.3">(1)</text>
<text x="344.5" y="680.5" font-size="17" fill="#ff00ff" text-anchor="middle" font-weight="normal" stroke="#ff00ff" stroke-width="0.3">(2)</text>
<text x="158.75" y="705" font-size="17" fill="#ff00ff" text-anchor="middle" font-weight="normal" stroke="#ff00ff" stroke-width="0.3">(B)</text>
<text x="658.75" y="584" font-size="17" fill="#ff00ff" text-anchor="middle" font-weight="normal" stroke="#ff00ff" stroke-width="0.3">(C)</text>
<text x="735" y="371" font-size="17" fill="#ff00ff" text-anchor="middle" font-weight="normal" stroke="#ff00ff" stroke-width="0.3">(1)</text>
<text x="789.75" y="526.3" font-size="17" fill="#ff00ff" text-anchor="middle" font-weight="normal" stroke="#ff00ff" stroke-width="0.3">(2)</text>
<text x="926.1" y="218" font-size="17" fill="#ff00ff" text-anchor="middle" font-weight="normal" stroke="#ff00ff" stroke-width="0.3">(3)</text>
<text x="984" y="377.5" font-size="17" fill="#ff00ff" text-anchor="middle" font-weight="normal" stroke="#ff00ff" stroke-width="0.3">(4)</text>
<text x="1070" y="131" font-size="17" fill="#ff00ff" text-anchor="middle" font-weight="normal" stroke="#ff00ff" stroke-width="0.3">(5)</text>
<text x="666.0" y="579.2" font-size="14.2" fill="#ff00ff" text-anchor="start" textLength="28.4" lengthAdjust="spacing" font-family="'Liberation Sans','Noto Sans CJK SC',sans-serif">衰竭</text>
<text x="778" y="390" font-size="17" fill="#0000ff" text-anchor="middle" font-weight="normal" stroke="#0000ff" stroke-width="0.2">X</text>
<text x="752.5" y="477.5" font-size="17" fill="#0000ff" text-anchor="middle" font-weight="normal" stroke="#0000ff" stroke-width="0.2">W</text>
<text x="790" y="512" font-size="17" fill="#0000ff" text-anchor="middle" font-weight="normal" stroke="#0000ff" stroke-width="0.2">Y</text>
<text x="828.75" y="483.75" font-size="17" fill="#0000ff" text-anchor="middle" font-weight="normal" stroke="#0000ff" stroke-width="0.2">2</text>
<text x="870.6" y="266.4" font-size="17" fill="#0000ff" text-anchor="middle" font-weight="normal" stroke="#0000ff" stroke-width="0.2">3</text>
<text x="898.75" y="392" font-size="17" fill="#0000ff" text-anchor="middle" font-weight="normal" stroke="#0000ff" stroke-width="0.2">4</text>
<text x="925.8" y="227.3" font-size="17" fill="#0000ff" text-anchor="middle" font-weight="normal" stroke="#0000ff" stroke-width="0.2">5</text>
<text x="947.5" y="353.75" font-size="17" fill="#0000ff" text-anchor="middle" font-weight="normal" stroke="#0000ff" stroke-width="0.2">W</text>
<text x="981" y="233.2" font-size="17" fill="#0000ff" text-anchor="middle" font-weight="normal" stroke="#0000ff" stroke-width="0.2">X</text>
<text x="983.75" y="358.75" font-size="17" fill="#0000ff" text-anchor="middle" font-weight="normal" stroke="#0000ff" stroke-width="0.2">Y</text>
<path d="M792.9 404.2L796.6 400.8" stroke="#0000ff" stroke-width="1.7" fill="none"/>
<path d="M796.8 400.2V412" stroke="#0000ff" stroke-width="2.0" fill="none"/>
<circle cx="434.4" cy="270.4" r="11.2" fill="none" stroke="#1fbad1" stroke-width="1.1"/>
<path d="M431.0 267.2L434.7 263.8" stroke="#1fbad1" stroke-width="1.785" fill="none"/>
<path d="M434.9 263.2V276.0" stroke="#1fbad1" stroke-width="2.1" fill="none"/>
<circle cx="460.5" cy="271.5" r="11.2" fill="none" stroke="#8f92a1" stroke-width="1.1"/>
<text transform="translate(460.5,277.1) scale(0.8,1)" font-size="18" fill="#8f92a1" text-anchor="middle" stroke="#8f92a1" stroke-width="0.5">A</text>
<circle cx="320.6" cy="493.4" r="11.0" fill="none" stroke="#000" stroke-width="1.4"/>
<text transform="translate(320.6,499.0) scale(0.8,1)" font-size="18" fill="#000" text-anchor="middle" stroke="#000" stroke-width="0.5">B</text>
<text x="333.8" y="501.7" font-size="12" fill="#000" text-anchor="start" textLength="35.4" lengthAdjust="spacing" font-family="'Liberation Sans','Noto Sans CJK SC',sans-serif">三角形</text>
<circle cx="330.5" cy="785.5" r="11.0" fill="none" stroke="#000" stroke-width="1.4"/>
<text transform="translate(330.5,791.1) scale(0.8,1)" font-size="18" fill="#000" text-anchor="middle" stroke="#000" stroke-width="0.5">C</text>
<circle cx="646.6" cy="602.8" r="11.2" fill="none" stroke="#1fbad1" stroke-width="1.1"/>
<text transform="translate(646.6,608.4) scale(0.8,1)" font-size="18" fill="#1fbad1" text-anchor="middle" stroke="#1fbad1" stroke-width="0.5">2</text>
<circle cx="671.4" cy="602.8" r="11.2" fill="none" stroke="#8f92a1" stroke-width="1.1"/>
<text transform="translate(671.4,608.4) scale(0.8,1)" font-size="18" fill="#8f92a1" text-anchor="middle" stroke="#8f92a1" stroke-width="0.5">B</text>
<circle cx="1070.4" cy="101.4" r="11.2" fill="none" stroke="#1fbad1" stroke-width="1.1"/>
<text transform="translate(1070.4,107.0) scale(0.8,1)" font-size="18" fill="#1fbad1" text-anchor="middle" stroke="#1fbad1" stroke-width="0.5">3</text>
<circle cx="1104.4" cy="121.5" r="11.2" fill="none" stroke="#8f92a1" stroke-width="1.1"/>
<text transform="translate(1104.4,127.1) scale(0.8,1)" font-size="18" fill="#8f92a1" text-anchor="middle" stroke="#8f92a1" stroke-width="0.5">C</text>
<circle cx="1279.5" cy="223.4" r="11.2" fill="none" stroke="#1fbad1" stroke-width="1.1"/>
<text transform="translate(1279.5,229.0) scale(0.9,1)" font-size="18" fill="#1fbad1" text-anchor="middle" stroke="#1fbad1" stroke-width="0.5">4</text>
<text transform="translate(1105.3,100) scale(0.86,1)" font-size="21" fill="#62656f" text-anchor="middle" stroke="#62656f" stroke-width="0.3">b</text>
<text x="293.5" y="822" font-size="18.5" fill="#8a8d9c" text-anchor="start" font-weight="normal" textLength="41.5" lengthAdjust="spacingAndGlyphs" stroke="#8a8d9c" stroke-width="0.4">alt a</text>
<text x="1386.5" y="849.6" font-size="17.5" fill="#000080" text-anchor="start" font-weight="normal" textLength="93" lengthAdjust="spacingAndGlyphs" stroke="#000080" stroke-width="0.35">ewc.space</text>
<g fill="#1e1e1e"><path d="M10 909.5h8.5v10.5h-4.2v-6.3H10z"/><circle cx="21.2" cy="911.6" r="2.1"/><path d="M25.2 909.5h4.8l-4.4 10.5h-4.8z"/></g>
<text x="33.5" y="918.6" font-size="13" fill="#1e1e1e" text-anchor="start" font-weight="normal" textLength="70.5" lengthAdjust="spacingAndGlyphs">TradingView</text>
</svg>
</body></html>
